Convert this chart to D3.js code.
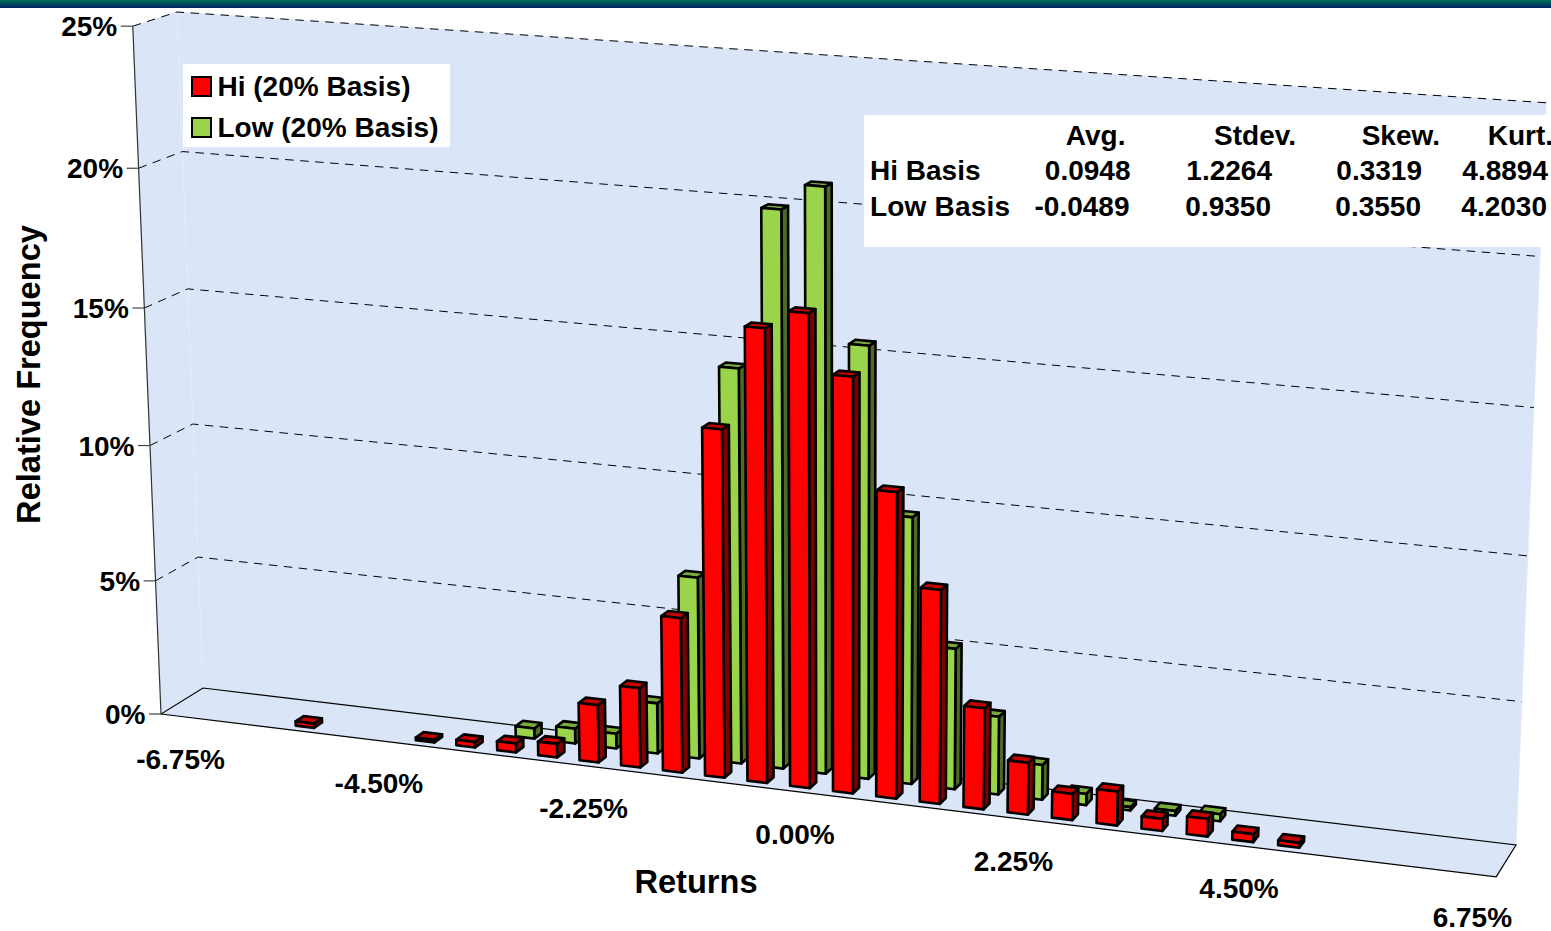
<!DOCTYPE html>
<html>
<head>
<meta charset="utf-8">
<title>Returns distribution</title>
<script src="https://cdnjs.cloudflare.com/ajax/libs/d3/7.8.5/d3.min.js"></script>
<style>
  html, body { margin: 0; padding: 0; background: #fff; overflow: hidden; }
  svg { display: block; }
  text { font-family: "Liberation Sans", Arial, sans-serif; font-weight: 700; fill: #000; }
</style>
</head>
<body>
<main></main>
<script>
// return bins, 0.45 wide
const bins = ['-6.75', '-6.30', '-5.85', '-5.40', '-4.95', '-4.50', '-4.05', '-3.60', '-3.15', '-2.70', '-2.25',
  '-1.80', '-1.35', '-0.90', '-0.45', '0.00', '0.45', '0.90', '1.35', '1.80', '2.25',
  '2.70', '3.15', '3.60', '4.05', '4.50', '4.95', '5.40', '5.85', '6.30', '6.75'];
const hiValues = [0, 0, 0, 0.16, 0, 0, 0.1, 0.2, 0.33, 0.5, 2.1,
  2.9, 5.6, 12.45, 16.1, 16.75, 14.7, 10.85, 7.6, 3.6, 1.85,
  0.93, 1.2, 0.43, 0.62, 0.28, 0.17, 0, 0, 0, 0];
const lowValues = [0, 0, 0, 0, 0, 0, 0, 0, 0.38, 0.55, 0.55,
  1.85, 6.6, 14.2, 19.85, 20.75, 15.4, 9.55, 5.05, 2.8, 1.25,
  0.4, 0.12, 0.17, 0.25, 0, 0, 0, 0, 0, 0];
const xTickLabels = ['-6.75', '-4.50', '-2.25', '0.00', '2.25', '4.50', '6.75'];
const yTicks = [0, 5, 10, 15, 20, 25];
const statHeaders = ['Avg.', 'Stdev.', 'Skew.', 'Kurt.'];
const statRowNames = ['Hi Basis', 'Low Basis'];
const hiStats = ['0.0948', '1.2264', '0.3319', '4.8894'];
const lowStats = ['-0.0489', '0.9350', '0.3550', '4.2030'];
const seriesNames = ['Low (20% Basis)', 'Hi (20% Basis)'];

const width = 1551;
const height = 931;

const colors = {
  'Hi (20% Basis)': { front: '#ff0000', side: '#800000', top: '#c40000' },
  'Low (20% Basis)': { front: '#99d44a', side: '#4d6b25', top: '#7aaa3a' }
};

// corners of the chart box and the perspective weight along each of its axes
const origin = [203, 688];   // back left, floor
const xEnd = [1516, 845];    // back right, floor
const yEnd = [177, 12];      // back left, top
const zEnd = [161, 714];     // front left, floor
const weightX = 0.906;
const weightY = 0.961;
const weightZ = 0.982;

function project(u, v, w) {
  const d = 1 + u * (weightX - 1) + v * (weightY - 1) + w * (weightZ - 1);
  return [0, 1].map(k => (origin[k]
    + u * (weightX * xEnd[k] - origin[k])
    + v * (weightY * yEnd[k] - origin[k])
    + w * (weightZ * zEnd[k] - origin[k])) / d);
}

const xScale = d3.scaleBand()
  .domain(bins)
  .range([0, 1])
  .paddingInner(0.54)
  .paddingOuter(0.27);

const yScale = d3.scaleLinear()
  .domain([0, 25])
  .range([0, 1]);

const depthScale = d3.scaleBand()
  .domain(seriesNames)
  .range([0, 1])
  .paddingInner(0.6)
  .paddingOuter(0.3);

const polygon = pts => d3.line()(pts) + 'Z';

const svg = d3.select('main').append('svg')
  .attr('width', width)
  .attr('height', height);

// Banner strip
const gradient = svg.append('defs').append('linearGradient')
  .attr('id', 'banner')
  .attr('x1', 0).attr('y1', 0).attr('x2', 0).attr('y2', 1);
gradient.append('stop').attr('offset', '0%').attr('stop-color', '#007358');
gradient.append('stop').attr('offset', '100%').attr('stop-color', '#00205f');
svg.append('rect')
  .attr('width', width)
  .attr('height', 8)
  .attr('fill', 'url(#banner)');

// Walls and floor
const wallFill = '#dae5f7';
const walls = [
  [project(0, 0, 0), project(1, 0, 0), project(1, 1, 0), project(0, 1, 0)],
  [project(0, 0, 1), project(0, 0, 0), project(0, 1, 0), project(0, 1, 1)],
  [project(0, 0, 1), project(1, 0, 1), project(1, 0, 0), project(0, 0, 0)]
];
svg.append('g')
  .selectAll('path')
  .data(walls)
  .enter()
  .append('path')
  .attr('d', polygon)
  .attr('fill', wallFill)
  .attr('stroke', '#e3ebf9')
  .attr('stroke-width', 1);

// Dashed gridlines on back and side walls
const gridLine = svg.append('g')
  .attr('fill', 'none')
  .attr('stroke', '#000')
  .attr('stroke-width', 1)
  .attr('stroke-dasharray', '8.5 6.5');
gridLine.selectAll('path')
  .data(yTicks.filter(t => t > 0))
  .enter()
  .append('path')
  .attr('d', t => d3.line()([
    project(0, yScale(t), 1),
    project(0, yScale(t), 0),
    project(1, yScale(t), 0)
  ]));

// Floor outline
svg.append('path')
  .attr('d', polygon([project(0, 0, 1), project(1, 0, 1), project(1, 0, 0), project(0, 0, 0)]))
  .attr('fill', 'none')
  .attr('stroke', '#000')
  .attr('stroke-width', 1.2);

// Left axis with outward ticks
svg.append('path')
  .attr('d', d3.line()([project(0, 0, 1), project(0, 1, 1)]))
  .attr('fill', 'none')
  .attr('stroke', '#333')
  .attr('stroke-width', 1.2);

const yAxis = svg.append('g')
  .selectAll('g')
  .data(yTicks)
  .enter()
  .append('g')
  .attr('transform', t => `translate(${project(0, yScale(t), 1)})`);
yAxis.append('line')
  .attr('x1', -12)
  .attr('x2', 0)
  .attr('stroke', '#444')
  .attr('stroke-width', 1.2);
yAxis.append('text')
  .attr('x', -15.5)
  .attr('y', 10)
  .attr('text-anchor', 'end')
  .style('font-size', '28px')
  .text(t => `${t}%`);

// Bars, back row first
function drawSeries(name, values) {
  const z0 = depthScale(name);
  const z1 = z0 + depthScale.bandwidth();
  const fill = colors[name];
  const bars = svg.append('g')
    .attr('stroke', '#000')
    .attr('stroke-width', 2.6)
    .attr('stroke-linejoin', 'round')
    .selectAll('g')
    .data(bins.map((bin, i) => ({ bin, value: values[i] })).filter(d => d.value > 0))
    .enter()
    .append('g');

  const u0 = d => xScale(d.bin);
  const u1 = d => xScale(d.bin) + xScale.bandwidth();
  const v = d => yScale(d.value);

  bars.append('path')
    .attr('fill', fill.side)
    .attr('d', d => polygon([project(u1(d), 0, z1), project(u1(d), 0, z0), project(u1(d), v(d), z0), project(u1(d), v(d), z1)]));
  bars.append('path')
    .attr('fill', fill.top)
    .attr('d', d => polygon([project(u0(d), v(d), z1), project(u1(d), v(d), z1), project(u1(d), v(d), z0), project(u0(d), v(d), z0)]));
  bars.append('path')
    .attr('fill', fill.front)
    .attr('d', d => polygon([project(u0(d), 0, z1), project(u1(d), 0, z1), project(u1(d), v(d), z1), project(u0(d), v(d), z1)]));
}
drawSeries('Low (20% Basis)', lowValues);
drawSeries('Hi (20% Basis)', hiValues);

// Category labels follow the front edge of the floor
svg.append('g')
  .selectAll('text')
  .data(xTickLabels)
  .enter()
  .append('text')
  .attr('transform', d => {
    const p = project(xScale(d) + xScale.bandwidth() / 2, 0, 1);
    return `translate(${p[0]}, ${p[1] + 52.5})`;
  })
  .attr('text-anchor', 'middle')
  .style('font-size', '28px')
  .text(d => `${d}%`);

// Axis titles
svg.append('text')
  .attr('x', 696)
  .attr('y', 893)
  .attr('text-anchor', 'middle')
  .style('font-size', '32.6px')
  .text('Returns');
svg.append('text')
  .attr('transform', 'translate(40, 374.5) rotate(-90)')
  .attr('text-anchor', 'middle')
  .style('font-size', '32.6px')
  .text('Relative Frequency');

// Legend
const legend = svg.append('g');
legend.append('rect')
  .attr('x', 183)
  .attr('y', 64)
  .attr('width', 267)
  .attr('height', 83)
  .attr('fill', '#fff');
const legendItem = legend.selectAll('g')
  .data(seriesNames.slice().reverse())
  .enter()
  .append('g')
  .attr('transform', (d, i) => `translate(192, ${77 + i * 41})`);
legendItem.append('rect')
  .attr('width', 19)
  .attr('height', 19)
  .attr('fill', d => colors[d].front)
  .attr('stroke', '#000')
  .attr('stroke-width', 2);
legendItem.append('text')
  .attr('x', 25.5)
  .attr('y', 19)
  .style('font-size', '28px')
  .text(d => d);

// Statistics table, cut off by the page edge like the wall behind it
const table = svg.append('g');
table.append('rect')
  .attr('x', 864)
  .attr('y', 115)
  .attr('width', width - 864)
  .attr('height', 132)
  .attr('fill', '#fff');
const statColumns = [1125.5, 1296, 1440, 1553];
const valueColumns = [1130.5, 1272, 1422, 1548];
table.selectAll('.header')
  .data(statHeaders)
  .enter()
  .append('text')
  .attr('class', 'header')
  .attr('x', (d, i) => statColumns[i])
  .attr('y', 145)
  .attr('text-anchor', 'end')
  .style('font-size', '28px')
  .text(d => d);
[hiStats, lowStats].forEach((row, r) => {
  const y = 180 + r * 36;
  table.append('text')
    .attr('x', 870)
    .attr('y', y)
    .style('font-size', '28px')
    .style('letter-spacing', r === 1 ? '0.2px' : null)
    .text(statRowNames[r]);
  table.selectAll(`.row${r}`)
    .data(row)
    .enter()
    .append('text')
    .attr('class', `row${r}`)
    .attr('x', (d, i) => valueColumns[i] - r)
    .attr('y', y)
    .attr('text-anchor', 'end')
    .style('font-size', '28px')
    .text(d => d);
});
</script>
</body>
</html>
